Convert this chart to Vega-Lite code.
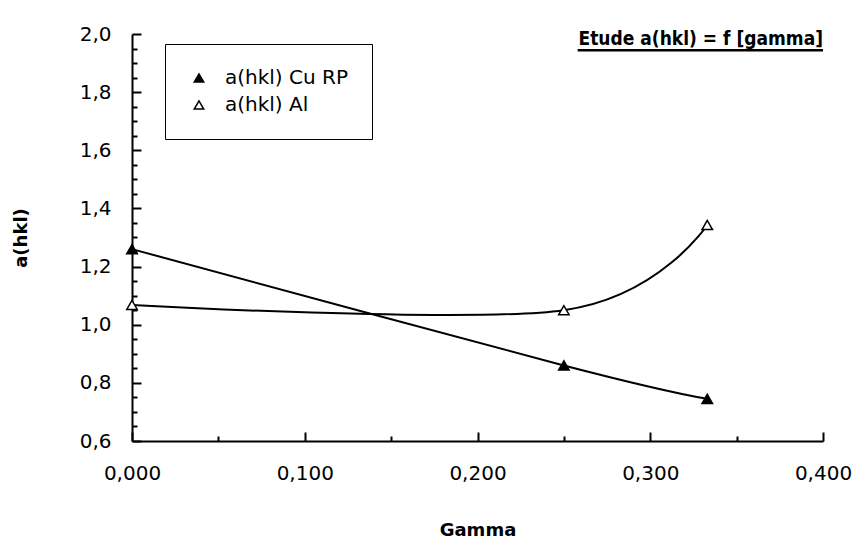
{
  "$schema": "https://vega.github.io/schema/vega-lite/v6.json",
  "width": 691,
  "height": 407,
  "autosize": {"type": "none"},
  "padding": {"left": 132, "top": 34, "right": 33, "bottom": 113},
  "background": "white",
  "config": {
    "locale": {"number": {"decimal": ",", "thousands": ".", "grouping": [3], "currency": ["", ""]}},
    "view": {"stroke": null},
    "font": "DejaVu Sans"
  },
  "title": {
    "text": "Etude a(hkl) = f [gamma]",
    "anchor": "end",
    "frame": "group",
    "orient": "top",
    "offset": 0,
    "dy": 40,
    "baseline": "alphabetic",
    "font": "DejaVu Sans Condensed, DejaVu Sans",
    "fontSize": 19,
    "fontWeight": "bold",
    "color": "black"
  },
  "resolve": {"axis": {"x": "independent", "y": "independent"}},
  "data": {
    "values": [
      {"gamma": 0.0, "a": 1.26, "series": "a(hkl) Cu RP"},
      {"gamma": 0.25, "a": 0.86, "series": "a(hkl) Cu RP"},
      {"gamma": 0.333, "a": 0.745, "series": "a(hkl) Cu RP"},
      {"gamma": 0.0, "a": 1.068, "series": "a(hkl) Al"},
      {"gamma": 0.25, "a": 1.05, "series": "a(hkl) Al"},
      {"gamma": 0.333, "a": 1.343, "series": "a(hkl) Al"}
    ]
  },
  "layer": [
    {
      "mark": {"type": "line", "interpolate": "cardinal", "color": "black", "strokeWidth": 2},
      "encoding": {
        "x": {
          "field": "gamma", "type": "quantitative",
          "scale": {"domain": [0, 0.4], "nice": false, "zero": false},
          "axis": {
            "orient": "bottom",
            "title": "Gamma",
            "values": [0, 0.1, 0.2, 0.3, 0.4],
            "format": ".3f",
            "grid": false,
            "domain": true, "domainColor": "black", "domainWidth": 2,
            "ticks": true, "tickColor": "black", "tickWidth": 2, "tickSize": -9,
            "labelFont": "DejaVu Sans", "labelFontSize": 20, "labelColor": "black", "labelPadding": 31,
            "labelFlush": false,
            "titleFont": "DejaVu Sans", "titleFontSize": 18, "titleFontWeight": "bold", "titleColor": "black",
            "titlePadding": 38
          }
        },
        "y": {
          "field": "a", "type": "quantitative",
          "scale": {"domain": [0.6, 2.0], "nice": false, "zero": false},
          "axis": {
            "orient": "left",
            "title": "a(hkl)",
            "values": [0.6, 0.8, 1.0, 1.2, 1.4, 1.6, 1.8, 2.0],
            "format": ".1f",
            "grid": false,
            "domain": true, "domainColor": "black", "domainWidth": 2,
            "ticks": true, "tickColor": "black", "tickWidth": 2, "tickSize": -9,
            "labelFont": "DejaVu Sans", "labelFontSize": 20, "labelColor": "black", "labelPadding": 30,
            "labelFlush": false,
            "titleFont": "DejaVu Sans", "titleFontSize": 18, "titleFontWeight": "bold", "titleColor": "black",
            "titlePadding": 49
          }
        },
        "detail": {"field": "series"}
      }
    },
    {
      "mark": {"type": "point", "shape": "triangle-up", "size": 110, "stroke": "black", "strokeWidth": 1.5, "filled": false, "opacity": 1},
      "encoding": {
        "x": {
          "field": "gamma", "type": "quantitative",
          "axis": {
            "orient": "bottom", "title": null,
            "values": [0.05, 0.15, 0.25, 0.35],
            "labels": false, "domain": false, "grid": false,
            "ticks": true, "tickColor": "black", "tickWidth": 2, "tickSize": -5
          }
        },
        "y": {
          "field": "a", "type": "quantitative",
          "axis": {
            "orient": "left", "title": null,
            "values": [0.65, 0.7, 0.75, 0.85, 0.9, 0.95, 1.05, 1.1, 1.15, 1.25, 1.3, 1.35, 1.45, 1.5, 1.55, 1.65, 1.7, 1.75, 1.85, 1.9, 1.95],
            "labels": false, "domain": false, "grid": false,
            "ticks": true, "tickColor": "black", "tickWidth": 2, "tickSize": -5
          }
        },
        "fill": {
          "field": "series", "type": "nominal",
          "scale": {"domain": ["a(hkl) Cu RP", "a(hkl) Al"], "range": ["black", "white"]},
          "legend": {
            "title": null,
            "orient": "none",
            "legendX": 33,
            "legendY": 10,
            "padding": 24,
            "strokeColor": "black",
            "fillColor": "white",
            "labelFont": "DejaVu Sans",
            "labelFontSize": 20,
            "labelColor": "black",
            "labelOffset": 16,
            "rowPadding": 7,
            "symbolSize": 90,
            "symbolType": "triangle-up",
            "symbolStrokeColor": "black",
            "symbolStrokeWidth": 1.5
          }
        }
      }
    },
    {
      "data": {"values": [{}]},
      "mark": {"type": "rule", "color": "black", "strokeWidth": 2.5, "clip": false},
      "encoding": {
        "x": {"datum": 0.258, "type": "quantitative", "axis": null},
        "x2": {"datum": 0.4},
        "y": {"datum": 1.944, "type": "quantitative", "axis": null}
      }
    }
  ]
}
